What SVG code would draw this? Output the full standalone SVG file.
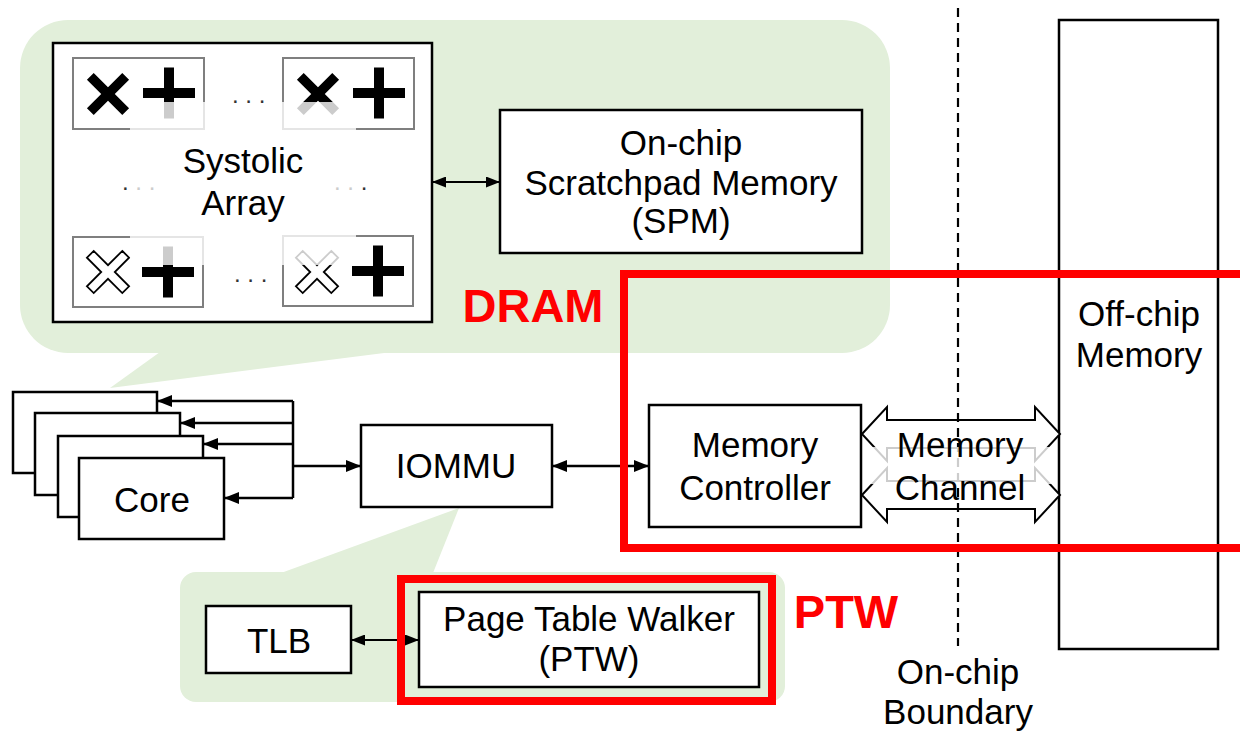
<svg xmlns="http://www.w3.org/2000/svg" xmlns:xlink="http://www.w3.org/1999/xlink" width="1240" height="732" viewBox="0 0 1240 732">
<style>
.t{font-family:"Liberation Sans",Arial,sans-serif;font-size:35px;text-anchor:middle;fill:#000}
.r{font-family:"Liberation Sans",Arial,sans-serif;font-size:47px;font-weight:bold;text-anchor:middle;fill:#ff0000}
.d{font-family:"Liberation Sans",Arial,sans-serif;font-size:24px;fill:#333}
.box{fill:#fff;stroke:#000;stroke-width:2.5}
.cell{fill:#fff;stroke:#7f7f7f;stroke-width:2}
.green{fill:#e2efda}
.red{fill:none;stroke:#ff0000;stroke-width:8}
.fade{fill:#fff;opacity:0.8}
.ln{fill:none;stroke:#000;stroke-width:2.5}
.lns{fill:none;stroke:#000;stroke-width:2}
</style>
<defs>
<marker id="ah" viewBox="0 0 15 12" refX="15" refY="6" markerWidth="15" markerHeight="12" markerUnits="userSpaceOnUse" orient="auto-start-reverse"><path d="M0,0 L15,6 L0,12 z" fill="#000"/></marker>
<marker id="as" viewBox="0 0 14 11" refX="14" refY="5.5" markerWidth="14" markerHeight="11" markerUnits="userSpaceOnUse" orient="auto-start-reverse"><path d="M0,0 L14,5.5 L0,11 z" fill="#000"/></marker>
<path id="cross" d="M-4.8,-25 h9.6 v20.2 h20.2 v9.6 h-20.2 v20.2 h-9.6 v-20.2 h-20.2 v-9.6 h20.2 z"/>
<path id="plus" d="M-26,-5 h21 v-20.5 h10 v20.5 h21 v10 h-21 v20.5 h-10 v-20.5 h-21 z"/>
</defs>

<g id="callouts">
<rect class="green" x="20" y="20" width="870" height="333" rx="48"/>
<polygon class="green" points="160,352 110,388 392,352"/>
<rect class="green" x="180" y="572" width="605" height="130" rx="16"/>
<polygon class="green" points="281,573 459,508 433,573"/>
</g>

<g id="systolic-array">
<rect class="box" x="53" y="43" width="379" height="279"/>
<g id="pe-top-left">
<rect class="cell" x="73" y="58" width="131" height="71"/>
<use xlink:href="#cross" transform="translate(108,94) rotate(45)" fill="#000"/>
<use xlink:href="#plus" transform="translate(169,93)" fill="#000"/>
<rect class="fade" x="130" y="102" width="76" height="29"/>
</g>
<g id="pe-top-right">
<rect class="cell" x="283" y="58" width="131" height="71"/>
<use xlink:href="#cross" transform="translate(318,94) rotate(45)" fill="#000"/>
<use xlink:href="#plus" transform="translate(379,93)" fill="#000"/>
<rect class="fade" x="281" y="102" width="75" height="29"/>
</g>
<g id="pe-bottom-left">
<rect class="cell" x="73" y="237" width="130" height="70"/>
<use xlink:href="#cross" transform="translate(108,272) rotate(45)" fill="#fff" stroke="#000" stroke-width="1.8"/>
<use xlink:href="#plus" transform="translate(168,272)" fill="#000"/>
<rect class="fade" x="130" y="235" width="75" height="30"/>
</g>
<g id="pe-bottom-right">
<rect class="cell" x="283" y="236" width="130" height="70"/>
<use xlink:href="#cross" transform="translate(317,272) rotate(45)" fill="#fff" stroke="#000" stroke-width="1.8"/>
<use xlink:href="#plus" transform="translate(378,271)" fill="#000"/>
<rect class="fade" x="281" y="234" width="75" height="31"/>
</g>
<text class="d" x="232" y="103">. . .</text>
<text class="d" x="122" y="190">.<tspan fill="#ccc"> . .</tspan></text>
<text class="d" x="334" y="190"><tspan fill="#ccc">. . </tspan>.</text>
<text class="d" x="234" y="282">. . .</text>
<text class="t" x="243" y="173">Systolic</text>
<text class="t" x="243" y="215">Array</text>
</g>

<g id="spm">
<rect class="box" x="500" y="110" width="362" height="143"/>
<text class="t" x="681" y="155">On-chip</text>
<text class="t" x="681" y="195">Scratchpad Memory</text>
<text class="t" x="681" y="233">(SPM)</text>
</g>

<g id="cores">
<rect class="box" x="13" y="392" width="144" height="81"/>
<rect class="box" x="35" y="413" width="145" height="82"/>
<rect class="box" x="58" y="436" width="145" height="81"/>
<rect class="box" x="79" y="458" width="145" height="81"/>
<text class="t" x="152" y="512">Core</text>
</g>

<g id="iommu">
<rect class="box" x="361" y="425" width="191" height="82"/>
<text class="t" x="456" y="478">IOMMU</text>
</g>

<g id="memory-controller">
<rect class="box" x="649" y="405" width="212" height="122"/>
<text class="t" x="755" y="457">Memory</text>
<text class="t" x="755" y="500">Controller</text>
</g>

<g id="offchip-memory">
<rect class="box" x="1059" y="20" width="159" height="629"/>
<text class="t" x="1139" y="326">Off-chip</text>
<text class="t" x="1139" y="367">Memory</text>
</g>

<g id="tlb">
<rect class="box" x="206" y="606" width="145" height="67"/>
<text class="t" x="279" y="653">TLB</text>
</g>

<g id="ptw">
<rect class="box" x="419" y="592" width="340" height="95"/>
<text class="t" x="589" y="631">Page Table Walker</text>
<text class="t" x="589" y="671">(PTW)</text>
</g>

<g id="connectors">
<path class="ln" d="M293,401 V498"/>
<path class="ln" d="M293,401 H157" marker-end="url(#ah)"/>
<path class="ln" d="M293,423 H180" marker-end="url(#ah)"/>
<path class="ln" d="M293,444 H203" marker-end="url(#ah)"/>
<path class="ln" d="M293,498 H224" marker-end="url(#ah)"/>
<path class="ln" d="M293,466 H361" marker-end="url(#ah)"/>
<path class="ln" d="M552,466 H649" marker-start="url(#ah)" marker-end="url(#ah)"/>
<path class="lns" d="M432,182 H500" marker-start="url(#as)" marker-end="url(#as)"/>
<path class="lns" d="M351,640 H419" marker-start="url(#as)" marker-end="url(#as)"/>
<polygon class="box" style="stroke-width:2" points="862,434 887,407 887,420 1035,420 1035,407 1060,434 1035,461 1035,448 887,448 887,461"/>
<polygon class="box" style="stroke-width:2" points="862,495 887,468 887,481 1035,481 1035,468 1060,495 1035,522 1035,509 887,509 887,522"/>
</g>

<g id="boundary">
<path d="M958,8 V646" fill="none" stroke="#000" stroke-width="2.2" stroke-dasharray="9,6"/>
<text class="t" x="958" y="684">On-chip</text>
<text class="t" x="958" y="724">Boundary</text>
</g>

<g id="memory-channel-label">
<rect class="fade" x="868" y="447" width="184" height="37"/>
<text class="t" x="960" y="457">Memory</text>
<text class="t" x="960" y="500">Channel</text>
</g>

<g id="highlights">
<rect class="red" x="624" y="274" width="640" height="274"/>
<text class="r" x="533" y="322">DRAM</text>
<rect class="red" x="401" y="579" width="371" height="122"/>
<text class="r" x="846" y="628">PTW</text>
</g>
</svg>
